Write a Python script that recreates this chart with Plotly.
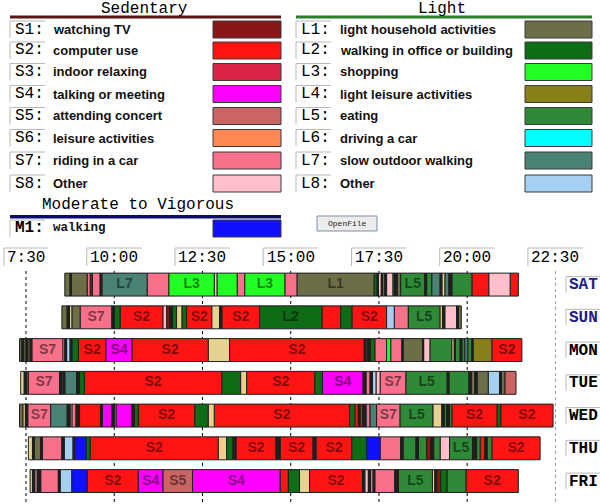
import plotly.graph_objects as go

# ---------------- data ----------------
days = ["SAT", "SUN", "MON", "TUE", "WED", "THU", "FRI"]
tick_labels = ["7:30", "10:00", "12:30", "15:00", "17:30", "20:00", "22:30"]

sed_codes = ["S1", "S2", "S3", "S4", "S5", "S6", "S7", "S8"]
sed_names = ["watching TV", "computer use", "indoor relaxing", "talking or meeting",
             "attending concert", "leisure activities", "riding in a car", "Other"]
sed_colors = ["#8A1616", "#FF1414", "#DC2448", "#FF00FF", "#CD6464", "#FF8855", "#F8708A", "#FFC0CB"]

light_codes = ["L1", "L2", "L3", "L4", "L5", "L6", "L7", "L8"]
light_names = ["light household activities", "walking in office or building", "shopping",
               "light leisure activities", "eating", "driving a car", "slow outdoor walking", "Other"]
light_colors = ["#6B6E46", "#0E6B16", "#22FF22", "#878018", "#2F8A37", "#00FFFF", "#4A8276", "#A6D0F2"]

mv_codes = ["M1"]
mv_names = ["walking"]
mv_colors = ["#1010FF"]

# extra colours seen in the bars but not in the legend (unlabelled / very short)
extra_colors = {"U": "#E3D38E", "K": "#1E1E1E"}

# segments per day: activity codes and edges (minutes since midnight)
sat_codes = ["L1", "K", "L1", "S7", "S1", "S7", "K", "L7", "S7", "L3", "S8", "L3", "S7", "L3", "S7",
             "L1", "L2", "K", "S8", "K", "L5", "K", "S8", "L2", "K", "L1", "L5", "K", "L5", "L7",
             "K", "U", "L7", "K", "L5", "S2", "S8", "S2"]
sat_edges = [516, 525, 527, 554, 559, 563, 576, 579, 656, 693, 770, 775, 809, 822, 890, 911, 1042,
             1047, 1049, 1054, 1056, 1060, 1063, 1074, 1077, 1081, 1087, 1128, 1131, 1140, 1154,
             1157, 1162, 1169, 1174, 1208, 1237, 1273, 1287]

sun_codes = ["L1", "K", "U", "L1", "S7", "K", "L2", "S2", "S8", "S1", "K", "L2", "U", "L2", "S2",
             "U", "K", "S2", "L2", "S2", "L2", "S2", "L8", "S7", "L5", "U", "K", "S8", "K", "L1"]
sun_edges = [511, 520, 524, 528, 542, 596, 600, 610, 683, 689, 694, 699, 706, 715, 723, 766, 779,
             783, 847, 953, 985, 1004, 1063, 1076, 1100, 1154, 1158, 1162, 1182, 1185, 1190]

mon_codes = ["L1", "K", "L1", "K", "L1", "K", "S7", "S8", "K", "L8", "K", "L2", "S2", "S4", "S2",
             "U", "S2", "K", "L1", "K", "L2", "S7", "L3", "S7", "K", "L1", "K", "S8", "L5", "U",
             "K", "L5", "K", "L5", "L7", "L5", "K", "L4", "S2"]
mon_edges = [439, 443, 446, 450, 453, 457, 460, 513, 516, 519, 525, 528, 539, 586, 630, 760, 796,
             1025, 1028, 1031, 1035, 1043, 1063, 1070, 1089, 1091, 1124, 1126, 1137, 1174, 1178,
             1180, 1188, 1191, 1196, 1201, 1208, 1210, 1242, 1293]

tue_codes = ["U", "K", "L1", "S7", "K", "L8", "K", "L7", "K", "L2", "S2", "L2", "U", "S2", "L2",
             "S4", "K", "S7", "K", "L8", "S8", "S7", "L5", "K", "L5", "K", "U", "K", "L1", "L8",
             "K", "L1", "S5"]
tue_edges = [441, 447, 451, 454, 507, 511, 513, 516, 536, 541, 549, 783, 815, 825, 941, 954, 1023,
             1028, 1035, 1039, 1045, 1052, 1096, 1166, 1169, 1203, 1208, 1212, 1217, 1236, 1255,
             1258, 1264, 1283]

wed_codes = ["L1", "U", "K", "S7", "L7", "K", "S8", "S7", "K", "S2", "K", "S4", "K", "S5", "S4",
             "K", "L2", "S2", "L2", "U", "S2", "L2", "S2", "K", "S2", "K", "S7", "L7", "S7", "L5",
             "U", "K", "L5", "K", "L5", "S2", "L2", "S2"]
wed_edges = [439, 445, 449, 453, 492, 520, 525, 528, 535, 541, 577, 580, 596, 600, 603, 630, 634,
             641, 737, 760, 770, 1000, 1009, 1015, 1018, 1022, 1028, 1035, 1046, 1086, 1142, 1157,
             1161, 1165, 1170, 1174, 1251, 1257, 1346]

thu_codes = ["U", "K", "L1", "K", "S7", "K", "L8", "K", "M1", "L2", "S2", "U", "L2", "K", "S2",
             "K", "S2", "K", "S2", "L2", "M1", "S7", "K", "L5", "K", "L5", "S1", "K", "L5", "S8",
             "L5", "K", "L5", "S2", "K", "L5", "S2"]
thu_edges = [454, 461, 464, 475, 478, 511, 515, 530, 533, 552, 559, 777, 791, 802, 807, 875, 882,
             938, 943, 1004, 1029, 1052, 1087, 1091, 1113, 1117, 1131, 1138, 1143, 1154, 1170,
             1209, 1216, 1222, 1230, 1234, 1242, 1324]

fri_codes = ["U", "K", "S8", "K", "S7", "K", "L8", "M1", "S2", "S4", "S5", "S4", "S2", "L2", "U",
             "S2", "K", "S8", "K", "S8", "K", "S7", "K", "L5", "U", "K", "S1", "L2", "L5", "S2"]
fri_edges = [457, 461, 465, 469, 475, 505, 508, 528, 554, 641, 683, 733, 882, 896, 915, 932, 1022,
             1026, 1032, 1036, 1040, 1043, 1077, 1083, 1141, 1145, 1148, 1155, 1166, 1198, 1287]

day_codes = [sat_codes, sun_codes, mon_codes, tue_codes, wed_codes, thu_codes, fri_codes]
day_edges = [sat_edges, sun_edges, mon_edges, tue_edges, wed_edges, thu_edges, fri_edges]

LABEL_MIN_MINUTES = 38

# ---------------- helpers ----------------
W, H = 600, 504


def px(x):
    return x / W


def py(y):
    return 1 - y / H


def to_min(s):
    h, m = s.split(":")
    return int(h) * 60 + int(m)


tick_minutes = [to_min(t) for t in tick_labels]

color_map = {}
for c, col in zip(sed_codes + light_codes + mv_codes, sed_colors + light_colors + mv_colors):
    color_map[c] = col
color_map.update(extra_colors)
legend_codes = set(sed_codes + light_codes + mv_codes)

fig = go.Figure()

# bars, one trace per activity code
for code, col in color_map.items():
    ys, bases, lens = [], [], []
    for i, (codes, edges) in enumerate(zip(day_codes, day_edges)):
        for c, a, b in zip(codes, edges[:-1], edges[1:]):
            if c == code:
                ys.append(i)
                bases.append(a)
                lens.append(b - a)
    if ys:
        fig.add_trace(go.Bar(
            orientation="h", y=ys, x=lens, base=bases, width=0.70,
            marker=dict(color=col, line=dict(color="#1e1e1e", width=1)),
            hoverinfo="skip", showlegend=False))

# segment labels
lx, ly, lt = [], [], []
for i, (codes, edges) in enumerate(zip(day_codes, day_edges)):
    for c, a, b in zip(codes, edges[:-1], edges[1:]):
        if c in legend_codes and (b - a) >= LABEL_MIN_MINUTES:
            lx.append((a + b) / 2)
            ly.append(i)
            lt.append(c)
fig.add_trace(go.Scatter(
    x=lx, y=ly, text=lt, mode="text", hoverinfo="skip", showlegend=False,
    textfont=dict(family="Liberation Sans", size=14, color="rgba(0,0,0,0.5)", weight="bold")))

shapes = []
annotations = []

# vertical time lines
for t in tick_minutes[:-1]:
    shapes.append(dict(type="line", xref="x", yref="paper", x0=t, x1=t, y0=py(271), y1=0,
                       line=dict(color="black", width=1, dash="3px,3px"), layer="below"))
shapes.append(dict(type="line", xref="x", yref="paper", x0=tick_minutes[-1], x1=tick_minutes[-1],
                   y0=py(271), y1=0, line=dict(color="#9a9a9a", width=1, dash="dot"), layer="below"))

# tick labels with sunken boxes
MPP = 1.7  # minutes per pixel
for t, lab in zip(tick_minutes, tick_labels):
    half = 5.5 * len(lab)
    x0 = t - half * MPP
    x1 = t + half * MPP
    shapes.append(dict(type="path", xref="x", yref="paper",
                       path=f"M {x0},{py(266)} L {x0},{py(248)} L {x1},{py(248)}",
                       line=dict(color="#b8b8b8", width=1)))
    annotations.append(dict(x=t, y=py(257.5), xref="x", yref="paper", text=lab, showarrow=False,
                            xanchor="center", yanchor="middle",
                            font=dict(family="Liberation Mono", size=16, color="black")))

# day labels
for i, d in enumerate(days):
    c = 284.6 + 32.75 * i
    shapes.append(dict(type="path", xref="paper", yref="paper",
                       path=f"M {px(566)},{py(c + 8)} L {px(566)},{py(c - 8)} L {px(600)},{py(c - 8)}",
                       line=dict(color="#b8b8b8", width=1)))
    annotations.append(dict(x=px(583), y=py(c + 0.5), xref="paper", yref="paper", text=d,
                            showarrow=False, xanchor="center", yanchor="middle",
                            font=dict(family="Liberation Mono", size=16, weight="bold",
                                      color="#1c1c8c" if i < 2 else "black")))

# legend section titles and rules
titles = [("Sedentary", 144, 8.5), ("Light", 442, 8.5), ("Moderate to Vigorous", 138, 205)]
for txt, x, y in titles:
    annotations.append(dict(x=px(x), y=py(y), xref="paper", yref="paper", text=txt, showarrow=False,
                            xanchor="center", yanchor="middle",
                            font=dict(family="Liberation Mono", size=16, color="black")))
rules = [(10, 281, 15.5, 18.5, "#5a1414"), (296, 592, 15.5, 18.5, "#2b7f2b"),
         (10, 281, 215, 218.5, "#0c0c70")]
for x0, x1, y0, y1, col in rules:
    shapes.append(dict(type="rect", xref="paper", yref="paper", x0=px(x0), x1=px(x1),
                       y0=py(y1), y1=py(y0), fillcolor=col, line=dict(width=0)))

row_y = [29.5, 50.5, 72, 94, 116, 138, 160.5, 183.5]


def legend_group(codes, names, colors, ys, bx0, bx1, tx, sx0, sx1, bold=False, mono=False):
    for code, name, col, y in zip(codes, names, colors, ys):
        shapes.append(dict(type="path", xref="paper", yref="paper",
                           path=f"M {px(bx0)},{py(y + 8.5)} L {px(bx0)},{py(y - 8.5)} L {px(bx1)},{py(y - 8.5)}",
                           line=dict(color="#b8b8b8", width=1)))
        annotations.append(dict(x=px(bx0 + 3), y=py(y), xref="paper", yref="paper",
                                text=code + ":", showarrow=False, xanchor="left", yanchor="middle",
                                font=dict(family="Liberation Mono", size=16, color="black",
                                          weight="bold" if bold else "normal")))
        annotations.append(dict(x=px(tx), y=py(y), xref="paper", yref="paper", text=name,
                                showarrow=False, xanchor="left", yanchor="middle",
                                font=dict(family="Liberation Mono" if mono else "Liberation Sans",
                                          size=12.5 if mono else 13, color="#111111",
                                          weight="bold")))
        shapes.append(dict(type="rect", xref="paper", yref="paper", x0=px(sx0), x1=px(sx1),
                           y0=py(y + 8.5), y1=py(y - 8.5), fillcolor=col,
                           line=dict(color="#3a3a3a", width=1)))


legend_group(sed_codes, sed_names, sed_colors, row_y, 10, 45, 51, 213, 281)
legend_group(light_codes, light_names, light_colors, row_y, 296, 331, 338, 525, 592)
legend_group(mv_codes, mv_names, mv_colors, [228.5], 10, 45, 51, 213, 281, bold=True, mono=True)

# OpenFile button
shapes.append(dict(type="rect", xref="paper", yref="paper", x0=px(317), x1=px(377),
                   y0=py(231), y1=py(216), fillcolor="#ececec", line=dict(color="#7f8fa8", width=1)))
annotations.append(dict(x=px(347), y=py(223.5), xref="paper", yref="paper", text="OpenFile",
                        showarrow=False, xanchor="center", yanchor="middle",
                        font=dict(family="Liberation Mono", size=8, color="#222222")))

fig.update_layout(
    width=W, height=H, margin=dict(l=0, r=0, t=0, b=0),
    paper_bgcolor="white", plot_bgcolor="white", barmode="overlay",
    xaxis=dict(range=[405.8, 1425.8], visible=False, fixedrange=True),
    yaxis=dict(range=[6.70, -8.69], visible=False, fixedrange=True),
    shapes=shapes, annotations=annotations, showlegend=False,
)

fig.write_html(
    "out.html",
    config={"displayModeBar": False},
    post_script="document.body.style.margin='0';document.body.style.padding='0';"
                "document.body.style.overflow='hidden';",
)
